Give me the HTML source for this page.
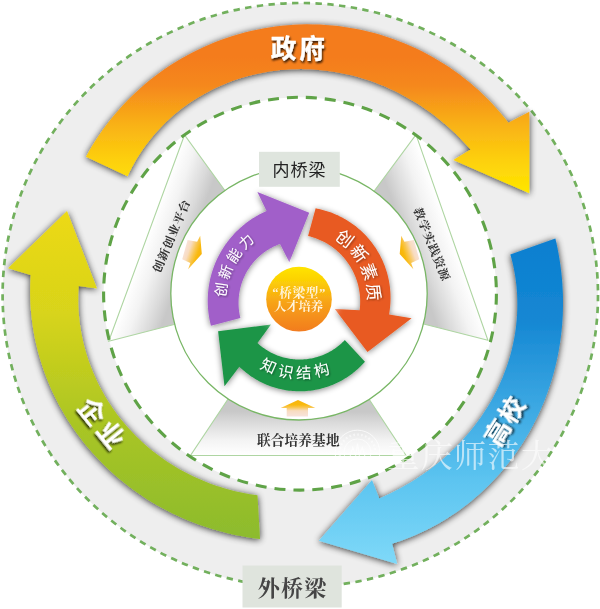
<!DOCTYPE html>
<html lang="zh"><head><meta charset="utf-8"><title>内外桥梁 人才培养模式</title>
<style>
html,body{margin:0;padding:0;background:#fff;}
body{width:600px;height:609px;overflow:hidden;font-family:"Liberation Sans",sans-serif;}
svg{display:block}
svg text{font-family:"Liberation Sans","Noto Sans CJK SC",sans-serif;}
svg text.serif{font-family:"Liberation Serif","Noto Serif CJK SC",serif;}
</style></head><body>
<svg width="600" height="609" viewBox="0 0 600 609">
<defs>
<filter id="sh" x="-20%" y="-20%" width="140%" height="140%"><feGaussianBlur in="SourceAlpha" stdDeviation="3.8"/><feOffset dx="-0.2" dy="0.9"/><feComponentTransfer><feFuncA type="linear" slope="0.8"/></feComponentTransfer><feMerge><feMergeNode/><feMergeNode in="SourceGraphic"/></feMerge></filter>
<filter id="sh2" x="-20%" y="-20%" width="140%" height="140%"><feGaussianBlur in="SourceAlpha" stdDeviation="3"/><feOffset dx="0" dy="1.2"/><feComponentTransfer><feFuncA type="linear" slope="0.5"/></feComponentTransfer><feMerge><feMergeNode/><feMergeNode in="SourceGraphic"/></feMerge></filter>
<filter id="tsh" x="-30%" y="-30%" width="160%" height="160%"><feGaussianBlur in="SourceAlpha" stdDeviation="1"/><feOffset dx="1.4" dy="1.8"/><feComponentTransfer><feFuncA type="linear" slope="0.8"/></feComponentTransfer><feMerge><feMergeNode/><feMergeNode in="SourceGraphic"/></feMerge></filter>
<filter id="tsh2" x="-30%" y="-30%" width="160%" height="160%"><feGaussianBlur in="SourceAlpha" stdDeviation="0.8"/><feOffset dx="0.6" dy="0.8"/><feComponentTransfer><feFuncA type="linear" slope="0.45"/></feComponentTransfer><feMerge><feMergeNode/><feMergeNode in="SourceGraphic"/></feMerge></filter>
<filter id="soft"><feGaussianBlur stdDeviation="0.6"/></filter>
<filter id="glow" x="-30%" y="-30%" width="160%" height="160%"><feGaussianBlur stdDeviation="4"/></filter>
<linearGradient id="gO" gradientUnits="userSpaceOnUse" x1="0" y1="55" x2="0" y2="195"><stop offset="0" stop-color="#f47b1d"/><stop offset="0.22" stop-color="#f5881c"/><stop offset="0.5" stop-color="#f9b216"/><stop offset="0.75" stop-color="#fdd00c"/><stop offset="1" stop-color="#ffe800"/></linearGradient>
<linearGradient id="gB" gradientUnits="userSpaceOnUse" x1="0" y1="240" x2="0" y2="560"><stop offset="0" stop-color="#0a7fd0"/><stop offset="0.25" stop-color="#1587d3"/><stop offset="0.75" stop-color="#5cc4f0"/><stop offset="1" stop-color="#7dd8f8"/></linearGradient>
<linearGradient id="gG" gradientUnits="userSpaceOnUse" x1="0" y1="215" x2="0" y2="540"><stop offset="0" stop-color="#ecd916"/><stop offset="0.3" stop-color="#d8d41a"/><stop offset="0.65" stop-color="#a9c524"/><stop offset="1" stop-color="#8cbb2e"/></linearGradient>
<linearGradient id="gBall" x1="0" y1="0" x2="0" y2="1"><stop offset="0" stop-color="#ffe400"/><stop offset="0.2" stop-color="#fcd205"/><stop offset="0.55" stop-color="#f7a317"/><stop offset="1" stop-color="#f27c20"/></linearGradient>
<linearGradient id="gSm" x1="0" y1="0" x2="1" y2="0"><stop offset="0" stop-color="#fbe3c8"/><stop offset="0.5" stop-color="#f9b24a"/><stop offset="1" stop-color="#f59a12"/></linearGradient>
<linearGradient id="gw0" gradientUnits="userSpaceOnUse" x1="146.6" y1="238.1" x2="187.75" y2="252.79"><stop offset="0" stop-color="#ffffff"/><stop offset="0.35" stop-color="#f3f3f3"/><stop offset="0.75" stop-color="#dadada"/><stop offset="1" stop-color="#c8c8c8"/></linearGradient><linearGradient id="gw1" gradientUnits="userSpaceOnUse" x1="451.95" y1="237.4" x2="410.65" y2="252.28"><stop offset="0" stop-color="#ffffff"/><stop offset="0.35" stop-color="#f3f3f3"/><stop offset="0.75" stop-color="#dadada"/><stop offset="1" stop-color="#c8c8c8"/></linearGradient><linearGradient id="gw2" gradientUnits="userSpaceOnUse" x1="298.25" y1="455.5" x2="298.45" y2="411.49"><stop offset="0" stop-color="#ffffff"/><stop offset="0.35" stop-color="#f3f3f3"/><stop offset="0.75" stop-color="#dadada"/><stop offset="1" stop-color="#c8c8c8"/></linearGradient><linearGradient id="gSmL" gradientUnits="userSpaceOnUse" x1="184" y1="248" x2="201" y2="254"><stop offset="0" stop-color="#f8e3dc"/><stop offset="0.3" stop-color="#f8dcc0"/><stop offset="0.6" stop-color="#f9c650"/><stop offset="0.8" stop-color="#f9ba12"/><stop offset="1" stop-color="#f8b408"/></linearGradient><linearGradient id="gSmR" gradientUnits="userSpaceOnUse" x1="417.5" y1="248" x2="400.5" y2="254"><stop offset="0" stop-color="#f8e3dc"/><stop offset="0.3" stop-color="#f8dcc0"/><stop offset="0.6" stop-color="#f9c650"/><stop offset="0.8" stop-color="#f9ba12"/><stop offset="1" stop-color="#f8b408"/></linearGradient><linearGradient id="gSmB" gradientUnits="userSpaceOnUse" x1="0" y1="416.5" x2="0" y2="400"><stop offset="0" stop-color="#f8e3dc"/><stop offset="0.35" stop-color="#f8dcc0"/><stop offset="0.55" stop-color="#f9c650"/><stop offset="0.7" stop-color="#f9ba12"/><stop offset="1" stop-color="#f8b408"/></linearGradient></defs>
<g filter="url(#soft)">
<ellipse cx="300.3" cy="295" rx="297.7" ry="292" fill="#eeeeee"/>
<circle cx="300" cy="293.7" r="196.4" fill="#ffffff"/>
<ellipse cx="300.3" cy="295" rx="297.7" ry="292" fill="none" stroke="#72b05d" stroke-width="2.7" stroke-dasharray="6.4 5.4"/>
<path d="M184.5 135L108.7 341.2L299 292.5Z" fill="url(#gw0)" stroke="#aed5a2" stroke-width="1.1"/>
<path d="M416 134.6L487.9 340.2L299 292.5Z" fill="url(#gw1)" stroke="#aed5a2" stroke-width="1.1"/>
<path d="M190.5 455.5L406 455.5L299 292.5Z" fill="url(#gw2)" stroke="#aed5a2" stroke-width="1.1"/>
<circle cx="300" cy="293.7" r="196.4" fill="none" stroke="#5fa347" stroke-width="3.1" stroke-dasharray="11 8"/>
<ellipse cx="299" cy="293.6" rx="128.2" ry="126.4" fill="#ffffff" stroke="#78b665" stroke-width="1.3"/>
<path d="M85.95 156.68L89.02 151.2L92.22 145.79L95.56 140.47L99.03 135.23L102.62 130.09L106.34 125.03L110.19 120.06L114.15 115.19L118.24 110.43L122.44 105.76L126.76 101.2L131.19 96.75L135.73 92.41L140.37 88.18L145.12 84.07L149.97 80.08L154.91 76.21L159.95 72.47L165.08 68.85L170.3 65.36L175.61 62L180.99 58.77L186.46 55.67L192 52.72L197.61 49.9L203.29 47.22L209.03 44.68L214.84 42.29L220.7 40.04L226.62 37.94L232.59 35.98L238.6 34.18L244.66 32.52L250.76 31.01L256.89 29.66L263.05 28.46L269.24 27.41L275.46 26.52L281.7 25.78L287.95 25.19L294.21 24.76L300.49 24.49L306.77 24.37L313.05 24.41L319.33 24.61L325.6 24.96L331.86 25.46L338.1 26.12L344.33 26.94L350.53 27.91L356.71 29.04L362.86 30.31L368.98 31.74L375.06 33.33L381.09 35.06L387.09 36.94L393.03 38.97L398.92 41.15L404.76 43.47L410.53 45.94L416.25 48.55L421.89 51.3L427.47 54.19L432.97 57.22L438.39 60.39L443.74 63.69L449 67.12L454.17 70.68L459.26 74.37L464.25 78.18L469.14 82.11L473.94 86.17L478.63 90.35L483.22 94.64L487.69 99.04L492.06 103.55L496.32 108.17L500.45 112.9L504.47 117.72L508.37 122.65L529.3 111.7L529.3 193.3L453.3 160L470.59 149.56L467.15 145.7L463.65 141.91L460.07 138.21L456.42 134.58L452.71 131.04L448.93 127.58L445.08 124.21L441.17 120.92L437.2 117.72L433.16 114.61L429.07 111.59L424.91 108.66L420.69 105.82L416.42 103.08L412.09 100.43L407.7 97.88L403.26 95.42L398.77 93.07L394.23 90.82L389.64 88.67L385.01 86.62L380.32 84.68L375.6 82.85L370.83 81.12L366.03 79.51L361.19 78L356.31 76.61L351.4 75.33L346.46 74.17L341.49 73.13L336.49 72.2L331.48 71.39L326.44 70.7L321.38 70.13L316.31 69.69L311.23 69.37L306.14 69.17L301.04 69.1L295.94 69.16L290.83 69.34L285.73 69.65L280.64 70.09L275.56 70.66L270.49 71.35L265.43 72.18L260.4 73.13L255.39 74.22L250.41 75.43L245.45 76.78L240.53 78.25L235.65 79.86L230.82 81.59L226.02 83.45L221.28 85.43L216.59 87.55L211.95 89.79L207.38 92.15L202.87 94.64L198.43 97.25L194.07 99.98L189.78 102.83L185.57 105.79L181.44 108.87L177.4 112.07L173.45 115.37L169.6 118.78L165.84 122.3L162.19 125.92L158.64 129.65L155.21 133.47L151.88 137.38L148.68 141.39L145.59 145.48L142.62 149.66L139.78 153.92L137.07 158.26L134.49 162.67L132.04 167.15L129.73 171.7L127.56 176.3Z" fill="url(#gO)" filter="url(#sh)"/>
<path d="M555.35 238.42L556.42 243.07L557.41 247.74L558.33 252.43L559.16 257.13L559.91 261.84L560.58 266.55L561.17 271.28L561.68 276.02L562.11 280.76L562.45 285.51L562.71 290.26L562.89 295.01L562.99 299.77L563 304.52L562.93 309.28L562.78 314.03L562.54 318.78L562.22 323.52L561.81 328.25L561.32 332.98L560.75 337.7L560.09 342.41L559.35 347.1L558.52 351.78L557.61 356.45L556.61 361.1L555.53 365.73L554.37 370.34L553.12 374.92L551.79 379.49L550.38 384.03L548.88 388.55L547.3 393.03L545.63 397.49L543.88 401.92L542.06 406.31L540.14 410.67L538.15 415L536.08 419.28L533.93 423.53L531.69 427.74L529.38 431.91L526.99 436.03L524.52 440.11L521.97 444.13L519.34 448.12L516.64 452.05L513.87 455.92L511.02 459.75L508.09 463.52L505.1 467.23L502.03 470.89L498.89 474.48L495.68 478.02L492.41 481.49L489.06 484.9L485.65 488.24L482.18 491.51L478.64 494.71L475.04 497.85L471.37 500.91L467.65 503.9L463.87 506.81L460.03 509.65L456.13 512.41L452.18 515.09L448.18 517.69L444.13 520.21L440.03 522.65L435.88 525L431.68 527.27L427.44 529.45L423.16 531.54L418.84 533.55L414.48 535.46L410.08 537.29L405.65 539.02L401.18 540.66L396.68 542.21L392.16 543.66L397.2 564L318.8 540.8L372 480L379.25 498.46L382.74 496.93L386.2 495.34L389.63 493.71L393.04 492.03L396.41 490.3L399.76 488.52L403.08 486.7L406.37 484.83L409.62 482.91L412.85 480.94L416.04 478.93L419.21 476.87L422.33 474.76L425.43 472.61L428.48 470.4L431.51 468.16L434.49 465.86L437.44 463.52L440.36 461.13L443.23 458.7L446.06 456.22L448.85 453.69L451.6 451.12L454.31 448.51L456.98 445.85L459.6 443.15L462.18 440.4L464.71 437.61L467.19 434.77L469.63 431.9L472.01 428.98L474.35 426.02L476.63 423.02L478.87 419.98L481.05 416.9L483.18 413.78L485.25 410.62L487.27 407.43L489.23 404.2L491.13 400.93L492.97 397.63L494.76 394.29L496.48 390.92L498.14 387.52L499.74 384.09L501.28 380.62L502.75 377.13L504.15 373.61L505.49 370.06L506.77 366.49L507.97 362.89L509.1 359.27L510.17 355.63L511.17 351.96L512.09 348.28L512.94 344.58L513.72 340.86L514.43 337.13L515.06 333.38L515.61 329.63L516.1 325.86L516.5 322.08L516.83 318.3L517.08 314.51L517.26 310.71L517.35 306.92L517.37 303.12L517.31 299.32L517.17 295.53L516.95 291.74L516.65 287.96L516.27 284.19L515.82 280.43L515.28 276.68L514.66 272.94L513.96 269.23L513.18 265.52L512.33 261.84L511.39 258.19L510.37 254.55Z" fill="url(#gB)" filter="url(#sh)"/>
<path d="M260 539.03L255.2 538.43L250.42 537.74L245.65 536.97L240.9 536.11L236.17 535.17L231.46 534.15L226.76 533.05L222.09 531.86L217.44 530.59L212.81 529.24L208.22 527.81L203.64 526.3L199.1 524.7L194.59 523.03L190.1 521.27L185.65 519.44L181.24 517.52L176.86 515.53L172.51 513.45L168.21 511.3L163.94 509.07L159.72 506.76L155.54 504.38L151.4 501.91L147.31 499.38L143.27 496.77L139.27 494.08L135.33 491.32L131.43 488.49L127.59 485.58L123.8 482.61L120.07 479.56L116.4 476.44L112.78 473.26L109.22 470L105.73 466.68L102.3 463.3L98.93 459.85L95.63 456.33L92.39 452.75L89.22 449.11L86.13 445.42L83.1 441.66L80.14 437.84L77.26 433.97L74.45 430.04L71.72 426.06L69.07 422.02L66.49 417.94L64 413.8L61.58 409.62L59.25 405.38L56.99 401.11L54.83 396.79L52.74 392.43L50.75 388.02L48.84 383.58L47.02 379.1L45.28 374.59L43.64 370.04L42.09 365.46L40.63 360.85L39.26 356.22L37.98 351.55L36.8 346.87L35.71 342.16L34.72 337.43L33.82 332.68L33.02 327.91L32.32 323.13L31.71 318.34L31.2 313.53L30.79 308.72L30.47 303.9L30.26 299.08L30.14 294.26L30.13 289.43L30.21 284.61L30.39 279.8L30.67 274.99L8 268.3L67 211L97 288.5L78.65 285.98L78.42 289.76L78.28 293.55L78.21 297.34L78.21 301.13L78.3 304.92L78.46 308.71L78.7 312.49L79.02 316.27L79.41 320.05L79.87 323.81L80.42 327.57L81.03 331.32L81.73 335.05L82.5 338.77L83.34 342.47L84.25 346.16L85.24 349.83L86.3 353.48L87.43 357.1L88.64 360.7L89.91 364.28L91.25 367.84L92.67 371.36L94.15 374.86L95.7 378.33L97.31 381.76L99 385.17L100.74 388.54L102.56 391.87L104.43 395.17L106.37 398.44L108.38 401.66L110.44 404.85L112.56 407.99L114.75 411.09L116.99 414.15L119.29 417.17L121.64 420.14L124.05 423.07L126.52 425.95L129.03 428.78L131.61 431.57L134.23 434.3L136.9 436.99L139.62 439.62L142.39 442.2L145.21 444.73L148.07 447.21L150.98 449.63L153.93 452L156.93 454.31L159.97 456.57L163.04 458.77L166.16 460.92L169.32 463L172.51 465.03L175.74 467L179 468.91L182.3 470.77L185.63 472.56L188.99 474.29L192.39 475.96L195.81 477.57L199.26 479.12L202.74 480.6L206.24 482.03L209.77 483.39L213.33 484.68L216.91 485.92L220.5 487.09L224.12 488.2L227.76 489.25L231.42 490.23L235.1 491.15L238.79 492L242.5 492.79L246.22 493.51L249.96 494.17L253.71 494.77L257.47 495.3Z" fill="url(#gG)" filter="url(#sh)"/>
<path d="M210.92 325.65L210.5 323.96L210.1 322.28L209.74 320.58L209.4 318.88L209.1 317.17L208.82 315.46L208.58 313.74L208.37 312.02L208.18 310.3L208.03 308.57L207.91 306.84L207.81 305.11L207.75 303.38L207.72 301.64L207.72 299.91L207.76 298.18L207.82 296.44L207.91 294.71L208.03 292.98L208.19 291.26L208.37 289.53L208.59 287.81L208.83 286.09L209.11 284.38L209.41 282.68L209.75 280.98L210.11 279.28L210.51 277.59L210.94 275.91L211.39 274.24L211.88 272.57L212.39 270.92L212.94 269.27L213.51 267.64L214.11 266.01L214.74 264.39L215.4 262.79L216.09 261.2L216.8 259.62L217.55 258.05L218.32 256.5L219.12 254.96L219.94 253.44L220.79 251.93L221.67 250.43L222.58 248.95L223.51 247.49L224.47 246.04L225.45 244.61L226.46 243.2L227.49 241.81L228.54 240.44L229.63 239.08L230.73 237.74L231.86 236.43L233.01 235.13L234.19 233.86L235.38 232.6L236.6 231.37L237.84 230.16L239.1 228.97L240.39 227.8L241.69 226.66L243.01 225.54L244.36 224.44L245.72 223.37L247.1 222.32L248.5 221.29L249.91 220.29L251.35 219.32L252.8 218.37L254.27 217.45L255.75 216.55L257.25 215.68L258.77 214.84L260.3 214.02L261.84 213.23L263.4 212.47L264.97 211.74L266.56 211.03L257.4 191.9L309.2 212.8L289.3 262.3L280.04 243.94L278.96 244.34L277.89 244.76L276.82 245.19L275.77 245.65L274.72 246.13L273.68 246.62L272.65 247.14L271.63 247.67L270.62 248.23L269.62 248.8L268.63 249.39L267.65 249.99L266.68 250.62L265.73 251.26L264.78 251.92L263.85 252.6L262.94 253.29L262.03 254.01L261.14 254.73L260.26 255.48L259.39 256.24L258.54 257.01L257.71 257.8L256.89 258.61L256.08 259.43L255.29 260.27L254.51 261.12L253.75 261.99L253.01 262.86L252.28 263.76L251.57 264.66L250.87 265.58L250.2 266.51L249.54 267.45L248.89 268.41L248.27 269.38L247.66 270.35L247.07 271.34L246.5 272.34L245.95 273.35L245.41 274.37L244.9 275.4L244.4 276.44L243.93 277.49L243.47 278.55L243.03 279.61L242.61 280.69L242.22 281.77L241.84 282.85L241.48 283.95L241.14 285.05L240.82 286.16L240.53 287.27L240.25 288.39L239.99 289.51L239.76 290.64L239.54 291.77L239.35 292.9L239.17 294.04L239.02 295.18L238.89 296.33L238.78 297.47L238.69 298.62L238.62 299.77L238.58 300.92L238.55 302.07L238.55 303.22L238.56 304.38L238.6 305.53L238.66 306.68L238.74 307.83L238.84 308.97L238.96 310.12L239.11 311.26L239.27 312.4L239.46 313.54L239.66 314.67L239.89 315.8L240.14 316.93L240.41 318.05Z" fill="#a15fc9" filter="url(#sh2)"/>
<path d="M315.64 208.37L317.41 208.71L319.16 209.08L320.91 209.48L322.65 209.92L324.38 210.39L326.1 210.9L327.81 211.44L329.51 212.01L331.2 212.62L332.87 213.26L334.53 213.93L336.18 214.64L337.81 215.37L339.43 216.14L341.03 216.94L342.62 217.78L344.19 218.64L345.74 219.53L347.28 220.46L348.79 221.41L350.29 222.39L351.77 223.41L353.22 224.45L354.66 225.52L356.07 226.62L357.46 227.74L358.83 228.9L360.18 230.08L361.5 231.28L362.8 232.51L364.08 233.77L365.33 235.05L366.55 236.36L367.75 237.69L368.92 239.04L370.07 240.41L371.18 241.81L372.27 243.23L373.33 244.67L374.37 246.13L375.37 247.62L376.35 249.12L377.29 250.64L378.21 252.17L379.09 253.73L379.95 255.3L380.77 256.89L381.56 258.5L382.32 260.12L383.05 261.76L383.74 263.41L384.4 265.07L385.03 266.75L385.63 268.43L386.2 270.13L386.73 271.84L387.22 273.56L387.68 275.3L388.11 277.03L388.51 278.78L388.87 280.54L389.19 282.3L389.48 284.07L389.74 285.84L389.96 287.62L390.14 289.4L390.29 291.19L390.41 292.98L390.49 294.77L390.53 296.56L390.54 298.36L390.52 300.15L390.45 301.94L390.36 303.73L390.23 305.52L390.06 307.31L389.86 309.09L389.62 310.87L389.35 312.65L389.04 314.42L411.6 318.2L367.5 352L334.8 309L359.64 310.13L359.78 308.9L359.9 307.67L360 306.44L360.08 305.2L360.13 303.96L360.16 302.73L360.17 301.49L360.16 300.25L360.12 299.02L360.06 297.78L359.98 296.55L359.87 295.31L359.75 294.08L359.6 292.86L359.42 291.63L359.23 290.41L359.01 289.19L358.77 287.98L358.51 286.77L358.23 285.56L357.92 284.37L357.59 283.17L357.24 281.99L356.87 280.81L356.48 279.64L356.06 278.47L355.63 277.31L355.17 276.16L354.69 275.02L354.2 273.89L353.68 272.77L353.14 271.66L352.58 270.55L352 269.46L351.4 268.38L350.78 267.31L350.14 266.25L349.48 265.21L348.8 264.17L348.1 263.15L347.39 262.14L346.65 261.15L345.9 260.16L345.13 259.2L344.34 258.24L343.54 257.3L342.72 256.38L341.88 255.47L341.02 254.58L340.15 253.7L339.26 252.84L338.36 251.99L337.44 251.17L336.51 250.35L335.56 249.56L334.6 248.78L333.62 248.02L332.63 247.28L331.62 246.56L330.61 245.86L329.58 245.17L328.53 244.51L327.48 243.86L326.41 243.23L325.33 242.62L324.25 242.04L323.15 241.47L322.04 240.92L320.92 240.39L319.79 239.89L318.65 239.4L317.5 238.94L316.35 238.49L315.18 238.07L314.01 237.67L312.83 237.29L311.65 236.93L310.46 236.59L309.26 236.28L308.06 235.99Z" fill="#e85a22" filter="url(#sh2)"/>
<path d="M364.96 361.67L363.79 362.98L362.59 364.27L361.37 365.53L360.12 366.77L358.85 367.99L357.55 369.18L356.23 370.34L354.89 371.47L353.52 372.58L352.13 373.66L350.72 374.71L349.28 375.73L347.83 376.72L346.36 377.68L344.87 378.61L343.35 379.52L341.83 380.39L340.28 381.22L338.72 382.03L337.14 382.81L335.54 383.55L333.93 384.26L332.31 384.94L330.67 385.58L329.02 386.2L327.36 386.77L325.69 387.32L324.01 387.83L322.31 388.3L320.61 388.74L318.9 389.15L317.18 389.52L315.45 389.86L313.72 390.16L311.98 390.42L310.24 390.65L308.49 390.85L306.74 391.01L304.98 391.13L303.22 391.22L301.47 391.27L299.71 391.29L297.95 391.27L296.19 391.21L294.43 391.12L292.68 390.99L290.93 390.83L289.18 390.63L287.43 390.4L285.7 390.13L283.96 389.83L282.24 389.49L280.52 389.12L278.81 388.71L277.1 388.26L275.41 387.78L273.73 387.27L272.06 386.72L270.4 386.14L268.75 385.53L267.11 384.88L265.49 384.2L263.88 383.49L262.29 382.74L260.71 381.96L259.15 381.15L257.61 380.31L256.08 379.44L254.57 378.53L253.08 377.6L251.61 376.63L250.16 375.64L248.73 374.62L247.32 373.56L245.93 372.48L244.56 371.37L243.22 370.24L241.9 369.07L240.6 367.88L239.33 366.67L224.5 386.3L218.1 331.3L271 324.6L257.47 343.03L258.37 343.84L259.29 344.64L260.21 345.42L261.16 346.18L262.12 346.92L263.09 347.64L264.08 348.34L265.08 349.03L266.09 349.69L267.12 350.34L268.16 350.96L269.21 351.56L270.27 352.15L271.34 352.71L272.43 353.25L273.52 353.77L274.63 354.27L275.74 354.75L276.86 355.2L277.99 355.64L279.13 356.05L280.28 356.44L281.44 356.8L282.6 357.15L283.77 357.47L284.94 357.76L286.12 358.04L287.31 358.29L288.5 358.52L289.69 358.73L290.89 358.91L292.09 359.07L293.3 359.2L294.5 359.31L295.71 359.4L296.92 359.47L298.13 359.51L299.34 359.53L300.56 359.52L301.77 359.49L302.98 359.44L304.19 359.36L305.4 359.26L306.6 359.13L307.8 358.99L309 358.82L310.2 358.62L311.39 358.4L312.58 358.16L313.76 357.9L314.94 357.61L316.11 357.3L317.28 356.97L318.43 356.61L319.59 356.23L320.73 355.83L321.86 355.41L322.99 354.97L324.11 354.5L325.22 354.01L326.32 353.5L327.41 352.97L328.49 352.42L329.55 351.84L330.61 351.25L331.65 350.64L332.69 350L333.71 349.35L334.71 348.67L335.71 347.98L336.69 347.26L337.65 346.53L338.6 345.78L339.54 345.01L340.46 344.22L341.37 343.42L342.25 342.59L343.13 341.75L343.98 340.9L344.82 340.02Z" fill="#1f9547" filter="url(#sh2)"/>
<circle cx="299" cy="299.5" r="37" fill="#ffffff" filter="url(#glow)"/>
<ellipse cx="299" cy="299.2" rx="32.8" ry="32.4" fill="url(#gBall)"/>
<path d="M187.6 239.9L197.1 241.7L200.2 235.8L201.8 253.9L188.1 269.2L190.3 262.9L182.2 259.3Z" fill="url(#gSmL)"/>
<path d="M413.9 239.9L404.4 241.7L401.3 235.8L399.7 253.9L413.4 269.2L411.2 262.9L419.3 259.3Z" fill="url(#gSmR)"/>
<path d="M298 400L315.3 408L308 408L308 416.5L286.7 416.5L286.7 408L280.7 408Z" fill="url(#gSmB)"/>
<rect x="259" y="151.8" width="80.8" height="35" fill="#dfe5de"/>
<rect x="242.5" y="565.5" width="99.2" height="42" fill="#dfe4dd"/>
<g transform="translate(297.9 48.5) rotate(0) scale(1 1)" fill="#fff" filter="url(#tsh)" stroke="#fff" stroke-width="0.3">
<text x="1.4" y="9.25" text-anchor="middle" font-size="25.7" font-weight="bold" letter-spacing="2.8">政府</text>
</g>
<g transform="translate(504.8 421.3) rotate(-58) scale(1 1)" fill="#fff" filter="url(#tsh)" stroke="#fff" stroke-width="0.2">
<text x="0.8" y="9" text-anchor="middle" font-size="25" font-weight="bold" letter-spacing="1.6">高校</text>
</g>
<g transform="translate(100.9 423.5) rotate(51) scale(1 1)" fill="#fff" filter="url(#tsh)" stroke="#fff" stroke-width="0.2">
<text x="2" y="9.36" text-anchor="middle" font-size="26" font-weight="bold" letter-spacing="4">企业</text>
</g>
<g transform="translate(299 170.3) rotate(0) scale(1 1)" fill="#222" >
<text x="0.5" y="6.12" text-anchor="middle" font-size="17" letter-spacing="1">内桥梁</text>
</g>
<g transform="translate(292 588) rotate(0) scale(1 1)" fill="#444" >
<text class="serif" x="0.6" y="7.92" text-anchor="middle" font-size="22" font-weight="bold" letter-spacing="1.2">外桥梁</text>
</g>
<g fill="#fff" filter="url(#tsh2)">
<g transform="translate(221.22 289.7) rotate(278.1)"><text x="0" y="5.18" text-anchor="middle" font-size="14.4">创</text></g>
<g transform="translate(225.81 271.94) rotate(290.9)"><text x="0" y="5.18" text-anchor="middle" font-size="14.4">新</text></g>
<g transform="translate(234.23 255.64) rotate(303.7)"><text x="0" y="5.18" text-anchor="middle" font-size="14.4">能</text></g>
<g transform="translate(246.05 241.6) rotate(316.5)"><text x="0" y="5.18" text-anchor="middle" font-size="14.4">力</text></g>
</g>
<g fill="#fff" filter="url(#tsh2)">
<g transform="translate(344.74 238.69) rotate(397.5)"><text x="0" y="6.12" text-anchor="middle" font-size="17">创</text></g>
<g transform="translate(359.24 253.49) rotate(413.7)"><text x="0" y="6.12" text-anchor="middle" font-size="17">新</text></g>
<g transform="translate(369.02 271.74) rotate(429.9)"><text x="0" y="6.12" text-anchor="middle" font-size="17">素</text></g>
<g transform="translate(373.33 292) rotate(446.1)"><text x="0" y="6.12" text-anchor="middle" font-size="17">质</text></g>
</g>
<g fill="#fff" filter="url(#tsh2)">
<g transform="translate(268.6 366.21) rotate(24.4)"><text x="0" y="5.54" text-anchor="middle" font-size="15.4">知</text></g>
<g transform="translate(285.76 371.65) rotate(10.8)"><text x="0" y="5.54" text-anchor="middle" font-size="15.4">识</text></g>
<g transform="translate(303.71 372.91) rotate(-2.8)"><text x="0" y="5.54" text-anchor="middle" font-size="15.4">结</text></g>
<g transform="translate(321.46 369.91) rotate(-16.4)"><text x="0" y="5.54" text-anchor="middle" font-size="15.4">构</text></g>
</g>
<g transform="translate(298.8 292.2) rotate(0) scale(1 1)" fill="#fff4dc" >
<text class="serif" x="0.3" y="4.54" text-anchor="middle" font-size="12.6" font-weight="bold" letter-spacing="0.7">“桥梁型”</text>
</g>
<g transform="translate(298.5 307) rotate(0) scale(1 1)" fill="#fff4dc" >
<text class="serif" x="0" y="4.43" text-anchor="middle" font-size="12.3" font-weight="bold">人才培养</text>
</g>
<g transform="translate(171.4 236.3) rotate(-67) scale(1.08 1)" fill="#303030" >
<text class="serif" x="0.3" y="4.14" text-anchor="middle" font-size="11.5" font-weight="bold" letter-spacing="0.63">创新创业平台</text>
</g>
<g transform="translate(431.7 244) rotate(68) scale(1.08 1)" fill="#303030" >
<text class="serif" x="0.3" y="4.14" text-anchor="middle" font-size="11.5" font-weight="bold" letter-spacing="0.63">教学实践资源</text>
</g>
<g transform="translate(298.2 440.3) rotate(0) scale(1 1)" fill="#303030" >
<text class="serif" x="0.1" y="4.9" text-anchor="middle" font-size="13.6" font-weight="bold" letter-spacing="0.2">联合培养基地</text>
</g>
<g fill="#fff" opacity="0.62"><text class="serif" x="487.5" y="467" text-anchor="middle" font-size="32" letter-spacing="1.4">重庆师范大学</text></g>
<g fill="none" stroke="#fff" opacity="0.7" transform="translate(357.5 452.5)"><circle r="22.3" stroke-width="1"/><circle r="18" stroke-width="2.2" stroke-dasharray="1.6 2.4" opacity="0.8"/><circle r="13.6" stroke-width="0.9"/><path d="M-8 6l3.2-11 3 8 1.8-12 1.8 12 3-8 3.2 11" stroke-width="1.1"/><path d="M-9 8.5h18" stroke-width="0.9"/></g>
</g>
</svg>
</body></html>
